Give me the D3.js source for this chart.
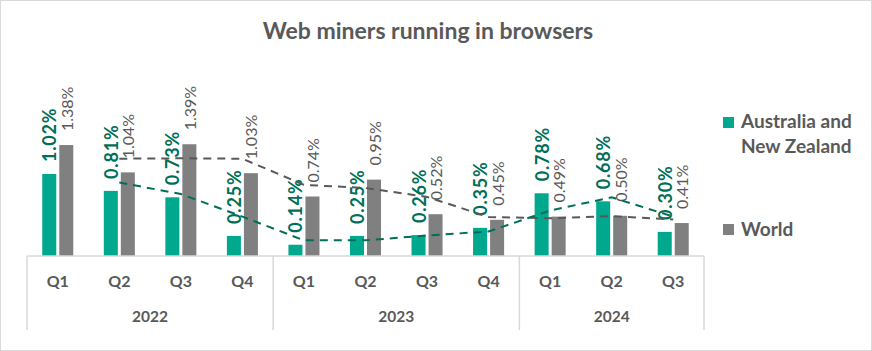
<!DOCTYPE html>
<html>
<head>
<meta charset="utf-8">
<script src="https://cdn.jsdelivr.net/npm/d3@7"></script>
<style>
  body { margin: 0; background: #fff; }
  svg { display: block; font-family: Lato, "Noto Sans", sans-serif; }
</style>
</head>
<body>
<svg id="chart" width="872" height="351"></svg>
<script>
// quarters along the x axis, grouped by year
let quarters = ["Q1", "Q2", "Q3", "Q4", "Q1", "Q2", "Q3", "Q4", "Q1", "Q2", "Q3"];
let years = ["2022", "2023", "2024"];
let yearCounts = [4, 4, 3];

// share of web miners (%)
let anz = [1.02, 0.81, 0.73, 0.25, 0.14, 0.25, 0.26, 0.35, 0.78, 0.68, 0.30];
let world = [1.38, 1.04, 1.39, 1.03, 0.74, 0.95, 0.52, 0.45, 0.49, 0.50, 0.41];

let seriesNames = ["Australia and New Zealand", "World"];

let green = "#00a88e";
let greenDark = "#006f58";
let grey = "#808080";
let textGrey = "#595959";
let lineGrey = "#d9d9d9";

let svg = d3.select("#chart");

svg.append("rect")
    .attr("x", 0.5).attr("y", 0.5)
    .attr("width", 871).attr("height", 350)
    .attr("fill", "white")
    .attr("stroke", lineGrey);

svg.append("text")
    .attr("x", 428).attr("y", 39)
    .attr("text-anchor", "middle")
    .attr("font-size", 23)
    .attr("font-weight", "bold")
    .attr("fill", textGrey)
    .text("Web miners running in browsers");

let baseY = 256;

let x = d3.scaleBand()
    .domain(d3.range(quarters.length))
    .range([27, 704]);

let inner = d3.scaleBand()
    .domain(["anz", "world"])
    .range([0, x.bandwidth()])
    .paddingInner(0.176)
    .paddingOuter(0.897);

let y = d3.scaleLinear()
    .domain([0, 1])
    .range([baseY, baseY - 80.4]);

let rows = quarters.map((q, i) => ({i: i, anz: anz[i], world: world[i]}));

// bars
let groups = svg.append("g").attr("id", "bars")
    .selectAll("g")
    .data(rows)
    .enter()
    .append("g")
    .attr("transform", d => "translate(" + x(d.i) + ",0)");

groups.append("rect")
    .attr("x", inner("anz"))
    .attr("y", d => y(d.anz))
    .attr("width", inner.bandwidth())
    .attr("height", d => baseY - y(d.anz))
    .attr("fill", green);

groups.append("rect")
    .attr("x", inner("world"))
    .attr("y", d => y(d.world))
    .attr("width", inner.bandwidth())
    .attr("height", d => baseY - y(d.world))
    .attr("fill", grey);

// two period moving average trendlines
function movingAvg(vals) {
    let pts = [];
    for (let i = 1; i < vals.length; i++) {
        pts.push([x(i) + x.bandwidth() / 2, y((vals[i - 1] + vals[i]) / 2)]);
    }
    return pts;
}

svg.append("path")
    .attr("d", d3.line()(movingAvg(world)))
    .attr("fill", "none")
    .attr("stroke", "#595959")
    .attr("stroke-width", 2)
    .attr("stroke-dasharray", "8,6");

svg.append("path")
    .attr("d", d3.line()(movingAvg(anz)))
    .attr("fill", "none")
    .attr("stroke", greenDark)
    .attr("stroke-width", 2)
    .attr("stroke-dasharray", "8,6");

// data labels
let fmt = v => v.toFixed(2) + "%";

groups.append("text")
    .attr("transform", d => "translate(" + (inner("anz") + inner.bandwidth() / 2) + "," + (y(d.anz) - 12) + ") rotate(-90)")
    .attr("dominant-baseline", "central")
    .attr("font-size", 18)
    .attr("font-weight", "bold")
    .attr("letter-spacing", 0.8)
    .attr("fill", greenDark)
    .text(d => fmt(d.anz));

groups.append("text")
    .attr("transform", d => "translate(" + (inner("world") + inner.bandwidth() / 2) + "," + (y(d.world) - 14) + ") rotate(-90)")
    .attr("dominant-baseline", "central")
    .attr("font-size", 16)
    .attr("fill", textGrey)
    .text(d => fmt(d.world));

// category axis
svg.append("line")
    .attr("x1", 27).attr("x2", 704)
    .attr("y1", baseY).attr("y2", baseY)
    .attr("stroke", lineGrey)
    .attr("stroke-width", 1.5);

svg.append("g").attr("id", "quarters")
    .selectAll("text")
    .data(quarters)
    .enter()
    .append("text")
    .attr("x", (d, i) => x(i) + x.bandwidth() / 2)
    .attr("y", 287)
    .attr("text-anchor", "middle")
    .attr("font-size", 16)
    .attr("font-weight", "bold")
    .attr("fill", textGrey)
    .text(d => d);

let starts = [0];
yearCounts.forEach((c, i) => starts.push(starts[i] + c));

svg.append("g").attr("id", "year-sep")
    .selectAll("line")
    .data(starts)
    .enter()
    .append("line")
    .attr("x1", d => d < quarters.length ? x(d) : x.range()[1])
    .attr("x2", d => d < quarters.length ? x(d) : x.range()[1])
    .attr("y1", baseY)
    .attr("y2", 330)
    .attr("stroke", lineGrey)
    .attr("stroke-width", 1.5);

svg.append("g").attr("id", "years")
    .selectAll("text")
    .data(years)
    .enter()
    .append("text")
    .attr("x", (d, i) => {
        let a = x(starts[i]);
        let b = starts[i + 1] < quarters.length ? x(starts[i + 1]) : x.range()[1];
        return (a + b) / 2;
    })
    .attr("y", 322)
    .attr("text-anchor", "middle")
    .attr("font-size", 15.5)
    .attr("font-weight", "bold")
    .attr("fill", textGrey)
    .text(d => d);

// legend
let legend = svg.append("g").attr("id", "legend");

legend.append("rect")
    .attr("x", 723).attr("y", 117)
    .attr("width", 11).attr("height", 11)
    .attr("fill", green);

legend.append("text")
    .attr("x", 741).attr("y", 128)
    .attr("font-size", 19)
    .attr("font-weight", "bold")
    .attr("fill", textGrey)
    .selectAll("tspan")
    .data(["Australia and", "New Zealand"])
    .enter()
    .append("tspan")
    .attr("x", 741)
    .attr("dy", (d, i) => i ? 25 : 0)
    .text(d => d);

legend.append("rect")
    .attr("x", 723).attr("y", 224)
    .attr("width", 11).attr("height", 11)
    .attr("fill", grey);

legend.append("text")
    .attr("x", 741).attr("y", 236)
    .attr("font-size", 19)
    .attr("font-weight", "bold")
    .attr("fill", textGrey)
    .text(seriesNames[1]);
</script>
</body>
</html>
